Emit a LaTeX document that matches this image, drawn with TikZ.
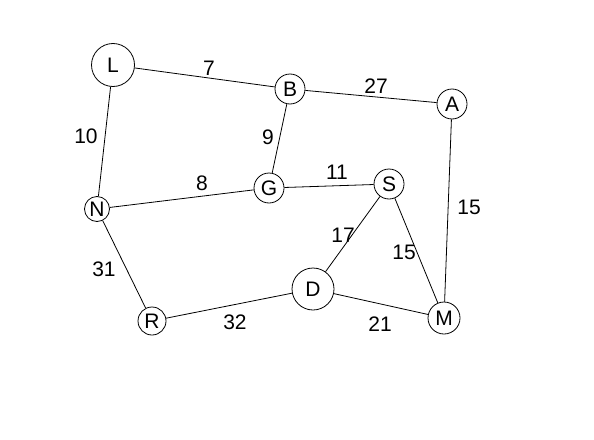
\documentclass[tikz,border=0pt]{standalone}
\usepackage{fontspec}
\setmainfont{Liberation Sans}
\begin{document}
\begin{tikzpicture}[x=1pt,y=-1pt,line width=0.8pt,
  vertex/.style={draw,circle,inner sep=0pt,font=\fontsize{21}{24}\selectfont},
  wt/.style={font=\fontsize{21}{24}\selectfont}]
  \useasboundingbox (0,0) rectangle (594,439);
  \node[vertex,minimum size=43pt] (L) at (113,65) {L};
  \node[vertex,minimum size=30pt] (B) at (290,89) {B};
  \node[vertex,minimum size=30pt] (A) at (452,104) {A};
  \node[vertex,minimum size=30pt] (G) at (269,188) {G};
  \node[vertex,minimum size=30pt] (S) at (389,184) {S};
  \node[vertex,minimum size=25pt] (N) at (97,209) {N};
  \node[vertex,minimum size=42pt] (D) at (313,289) {D};
  \node[vertex,minimum size=28pt] (R) at (152,321) {R};
  \node[vertex,minimum size=32pt] (M) at (444,318) {M};
  \draw (L) -- (B);
  \draw (B) -- (A);
  \draw (L) -- (N);
  \draw (B) -- (G);
  \draw (N) -- (G);
  \draw (G) -- (S);
  \draw (A) -- (M);
  \draw (S) -- (D);
  \draw (S) -- (M);
  \draw (N) -- (R);
  \draw (R) -- (D);
  \draw (D) -- (M);
  \node[wt] (wLB) at (209,68) {7};
  \node[wt] (wBA) at (376,86) {27};
  \node[wt] (wLN) at (86,136) {10};
  \node[wt] (wBG) at (268,137) {9};
  \node[wt] (wNG) at (202,183) {8};
  \node[wt] (wGS) at (337,172) {11};
  \node[wt] (wAM) at (469,207) {15};
  \node[wt] (wSD) at (343,235) {17};
  \node[wt] (wSM) at (404,252) {15};
  \node[wt] (wNR) at (104,269) {31};
  \node[wt] (wRD) at (235,322) {32};
  \node[wt] (wDM) at (380,324) {21};
\end{tikzpicture}
\end{document}
